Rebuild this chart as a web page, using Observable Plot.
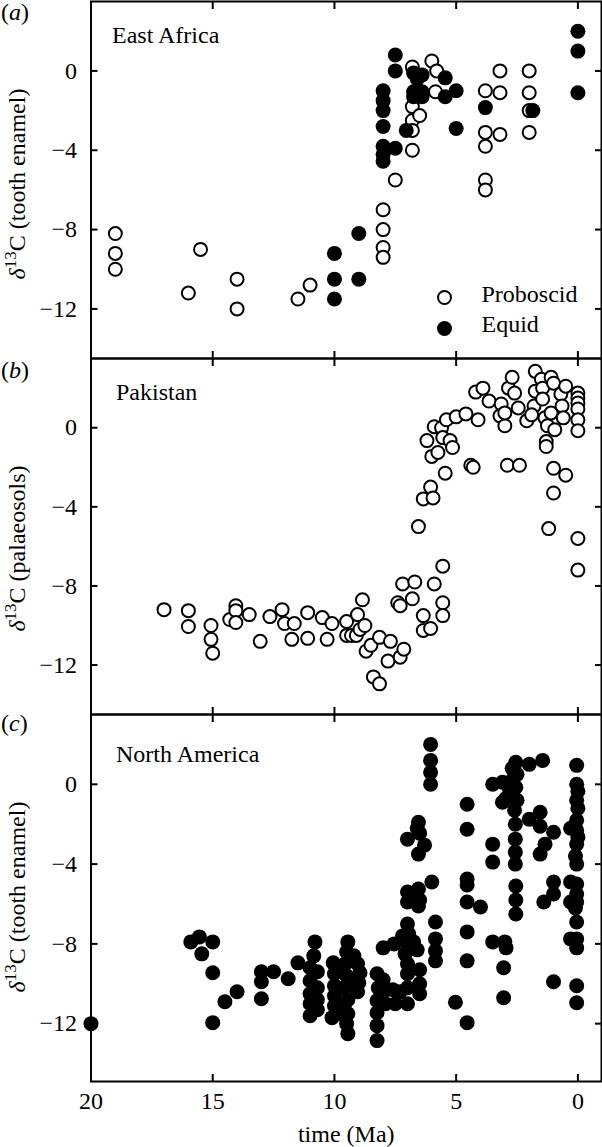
<!DOCTYPE html>
<html><head><meta charset="utf-8">
<script src="https://cdn.jsdelivr.net/npm/d3@7"></script>
<script src="https://cdn.jsdelivr.net/npm/@observablehq/plot@0.6"></script>
<style>body{margin:0;background:white;} #chart svg{display:block;}</style>
</head><body><div id="chart"></div>
<script>
const xTicks = [20, 15, 10, 5, 0];
const yTicks = [-12, -8, -4, 0];
const panelLetters = ["a", "b", "c"];
const panelTitles = ["East Africa", "Pakistan", "North America"];
const yLabels = ["tooth enamel", "palaeosols", "tooth enamel"];
const legendLabels = ["Proboscid", "Equid"];
const xLabel = "time (Ma)";

// [time (Ma), δ13C]
const eastAfricaProboscid = [
  [19.0,-8.2],[19.0,-9.2],[19.0,-10.0],[16.0,-11.2],[15.5,-9.0],[14.0,-10.5],[14.0,-12.0],[11.5,-11.5],[11.0,-10.8],
  [8.0,-7.0],[8.0,-8.0],[8.0,-8.9],[8.0,-9.4],[7.5,-5.5],
  [6.8,0.2],[6.8,-1.8],[6.8,-2.5],[6.8,-3.0],[6.8,-4.0],[6.5,-2.25],
  [6.0,0.5],[5.8,0.0],[5.85,-1.05],
  [3.8,-1.0],[3.8,-3.1],[3.8,-3.8],[3.8,-5.5],[3.8,-6.0],
  [3.2,0.0],[3.2,-1.1],[3.2,-3.2],
  [2.0,0.0],[2.0,-1.1],[2.0,-2.0],[2.0,-3.1]
];
const eastAfricaEquid = [
  [10.0,-9.2],[10.0,-10.5],[10.0,-11.5],[9.0,-8.2],[9.0,-10.5],
  [8.0,-1.0],[8.0,-1.5],[8.0,-2.0],[8.0,-2.8],[8.0,-3.8],[8.0,-4.2],[8.0,-4.55],
  [7.5,0.8],[7.5,0.0],[7.5,-3.9],[7.05,-3.0],
  [6.75,-0.1],[6.75,-1.05],[6.75,-1.3],[6.4,-0.2],[6.4,-1.05],[6.4,-1.3],[6.6,-0.4],
  [5.45,-0.35],[5.45,-1.3],[5.0,-1.0],[5.0,-2.9],
  [3.8,-1.85],[1.85,-2.0],[0,2.0],[0,1.0],[0,-1.1]
];
const pakistanPalaeosol = [
  [17.0,-9.2],[16.0,-9.25],[16.0,-10.05],[15.07,-10.0],[15.07,-10.7],[15.0,-11.4],[14.3,-9.7],[14.05,-9.0],[14.05,-9.25],[14.05,-9.85],
  [13.5,-9.45],[13.05,-10.8],[12.65,-9.55],[12.15,-9.2],[12.05,-9.9],[11.75,-10.7],[11.65,-9.9],[11.1,-9.35],[11.1,-10.65],[10.5,-9.6],
  [10.3,-10.7],[10.1,-9.9],[9.5,-9.8],[9.5,-10.5],[9.3,-10.5],[9.1,-10.5],[9.05,-9.45],[8.95,-10.2],[8.85,-8.7],[8.75,-10.0],
  [8.7,-11.3],[8.5,-11.0],[8.4,-12.6],[8.15,-12.95],[8.15,-10.6],[7.8,-11.8],[7.7,-10.8],[7.3,-11.6],[7.15,-11.2],[7.4,-8.85],
  [7.3,-9.0],[7.2,-7.9],[6.8,-8.65],[6.7,-7.8],[6.35,-9.5],[6.35,-10.25],[6.05,-10.15],[5.9,-7.9],[5.55,-7.0],[5.55,-8.85],[5.55,-9.5],
  [6.55,-5.0],[6.35,-3.6],[6.05,-3.0],[5.95,-3.55],[6.2,-0.65],[6.0,-1.45],[5.9,0.05],[5.75,-1.25],[5.6,0.0],[5.55,-0.5],
  [5.4,0.4],[5.45,-2.3],[5.25,-0.65],[5.15,-1.0],[5.0,0.55],[4.6,0.7],[4.4,-1.9],[4.3,-2.0],[4.2,1.8],[4.1,0.4],
  [3.9,2.0],[3.65,1.35],[3.15,1.2],[3.2,0.6],[3.0,0.1],[3.0,0.75],[2.85,2.0],[2.9,-1.9],[2.7,2.55],[2.6,1.75],
  [2.45,1.0],[2.4,-1.9],[2.1,0.35],[1.75,2.85],[1.75,1.85],[1.8,1.1],[1.9,0.65],[1.5,2.45],[1.45,2.0],[1.45,1.45],
  [1.35,0.5],[1.25,0.1],[1.3,-0.7],[1.3,-0.95],[1.2,-5.1],[1.1,2.55],[1.0,2.25],[1.1,0.75],[0.95,-0.1],[1.0,-2.05],
  [1.0,-3.3],[0.7,1.7],[0.65,1.1],[0.6,0.5],[0.5,2.1],[0.5,-2.4],[0,1.75],[0,1.5],[0,1.25],[0,0.95],[0,0.4],[0,-0.15],[0,-5.6],[0,-7.2]
];
const northAmericaEnamel = [
  [20,-12],
  [15.9,-7.9],[15.55,-7.65],[15.0,-7.9],[15.45,-8.5],[15.0,-9.45],[14.0,-10.4],[14.5,-10.9],[15.0,-11.95],
  [13.0,-9.4],[13.0,-9.9],[13.0,-10.75],[12.5,-9.4],[11.9,-9.75],[11.5,-8.95],
  [10.8,-7.9],[10.85,-8.6],[11.0,-9.2],[11.0,-9.85],[11.0,-10.5],[11.0,-11.0],[11.0,-11.6],[10.7,-9.4],[10.7,-10.2],[10.7,-10.8],[10.7,-11.3],
  [10.05,-8.95],[10.0,-9.5],[10.0,-10.1],[10.0,-10.6],[10.0,-11.1],[9.9,-11.5],[10.1,-11.7],[9.8,-9.2],
  [9.45,-7.9],[9.5,-8.4],[9.55,-9.0],[9.5,-9.6],[9.6,-10.2],[9.45,-10.8],[9.6,-11.1],[9.45,-11.5],[9.5,-12.0],[9.45,-12.5],[9.3,-10.0],
  [9.2,-8.6],[9.05,-9.0],[8.95,-9.45],[9.0,-9.95],[9.05,-10.4],
  [8.25,-9.5],[8.2,-10.2],[8.25,-10.85],[8.25,-11.45],[8.25,-12.1],[8.25,-12.85],[8.0,-9.8],[8.1,-10.6],
  [8.0,-8.2],[7.55,-8.0],[7.95,-10.35],[7.6,-10.3],[7.5,-11.0],[7.0,-11.0],[7.9,-11.0],[7.3,-10.4],[6.5,-10.5],
  [7.0,-7.0],[6.95,-7.5],[7.0,-8.0],[7.1,-8.5],[7.0,-9.0],[7.0,-9.5],[7.0,-10.2],[7.2,-7.6],[6.75,-7.9],[6.6,-8.3],
  [6.5,-9.3],[6.5,-10.0],
  [5.85,-6.9],[5.85,-7.75],[5.85,-8.35],[5.85,-8.85],
  [6.0,-4.9],[6.55,-5.25],[7.0,-5.4],[7.0,-5.9],[6.55,-6.1],[6.7,-5.6],[6.5,-5.8],
  [6.55,-1.9],[6.5,-2.45],[7.0,-2.75],[6.3,-3.05],[6.55,-3.5],[6.6,-2.2],
  [6.05,2.0],[6.05,1.2],[6.05,0.6],[6.05,0.0],
  [5.03,-10.93],
  [4.55,-1.0],[4.55,-2.25],[4.55,-4.75],[4.55,-5.05],[4.55,-5.9],[4.55,-7.4],[4.55,-8.85],[4.55,-11.95],
  [4.0,-6.15],
  [3.5,-3.0],[3.5,-3.9],[3.5,-7.9],[3.0,-7.9],[2.95,-8.2],[3.05,-9.2],[3.05,-10.7],
  [3.5,0.0],[3.1,0.1],[3.1,-0.9],[2.95,-0.7],
  [2.55,1.1],[2.5,0.5],[2.55,-0.15],[2.5,-0.8],[2.6,-1.3],[2.57,-2.0],[2.57,-2.75],[2.57,-3.4],[2.57,-4.0],[2.55,-5.1],[2.55,-5.8],[2.55,-6.5],[2.7,0.8],[2.7,0.2],[2.8,-0.3],
  [2.0,1.0],[1.45,1.2],[2.0,-1.75],[1.55,-1.4],[1.55,-2.1],[1.0,-2.4],[1.35,-3.0],[1.55,-3.5],[1.0,-4.9],[1.0,-5.5],[1.4,-5.9],[1.0,-9.9],
  [0.05,0.95],[0.05,0.0],[0.05,-0.8],[0.05,-1.8],[0.05,-2.3],[0.05,-3.0],[0.05,-4.0],[0.05,-5.0],[0.05,-5.5],[0.05,-5.9],[0.05,-6.9],[0.05,-7.75],[0.05,-8.2],[0.05,-10.1],[0.05,-10.95],
  [0.0,-0.35],[0.0,-1.2],[0.0,-2.65],[0.3,-2.2],[0.3,-4.9],[0.3,-5.9],[0.3,-7.75],[0.1,-6.2],[0.1,-3.6]
];

const FONT = "'Liberation Serif', 'Times New Roman', serif";

function panel(o) {
  const marks = [
    Plot.frame({strokeWidth: 2}),
    Plot.axisY(yTicks, {anchor: "left", tickSize: 0, tickPadding: 14, label: null}),
    Plot.axisY(yTicks, {anchor: "left", tickSize: -7, fill: "none", label: null, strokeWidth: 2}),
    Plot.axisY(yTicks, {anchor: "right", tickSize: -7, fill: "none", label: null, strokeWidth: 2}),
    Plot.axisX(xTicks, {anchor: "top", tickSize: -7, fill: "none", label: null, strokeWidth: 2}),
    Plot.axisX(xTicks, {anchor: "bottom", tickSize: -7, fill: "none", label: null, strokeWidth: 2})
  ];
  if (o.xText) {
    marks.push(Plot.axisX(xTicks, {anchor: "bottom", tickSize: 0, tickPadding: 10, label: null}));
    marks.push(Plot.text([xLabel], {frameAnchor: "bottom", dy: 60, lineAnchor: "bottom", fontSize: 24}));
  }
  if (o.open) marks.push(Plot.dot(o.open, {x: d => d[0], y: d => d[1], r: 6.5, stroke: "black", strokeWidth: 2, fill: "white"}));
  if (o.filled) marks.push(Plot.dot(o.filled, {x: d => d[0], y: d => d[1], r: 7.5, fill: "black"}));
  if (o.legend) {
    marks.push(Plot.dot([legendLabels[0]], {frameAnchor: "bottom-right", dx: -157, dy: -61, r: 6.5, stroke: "black", strokeWidth: 2, fill: "white"}));
    marks.push(Plot.dot([legendLabels[1]], {frameAnchor: "bottom-right", dx: -157, dy: -30, r: 7.5, fill: "black"}));
    marks.push(Plot.text([legendLabels[0]], {frameAnchor: "bottom-right", dx: -120, dy: -57, textAnchor: "start", fontSize: 24}));
    marks.push(Plot.text([legendLabels[1]], {frameAnchor: "bottom-right", dx: -120, dy: -27, textAnchor: "start", fontSize: 24}));
  }
  marks.push(Plot.text([o.title], {frameAnchor: "top-left", dx: o.titleDx, dy: o.titleDy, textAnchor: "start", lineAnchor: "bottom", fontSize: 24}));
  marks.push(Plot.text([o.letter], {frameAnchor: "top-left", dx: -90, dy: o.letterDy, textAnchor: "start", lineAnchor: "bottom", fontSize: 24}));
  marks.push(Plot.text([o.ylabel], {frameAnchor: "left", dx: -66.5, dy: o.ylabelDy, rotate: -90, textAnchor: "middle", lineAnchor: "bottom", fontSize: 24}));

  const svg = Plot.plot({
    width: 602,
    height: o.height,
    marginLeft: 90.5,
    marginRight: 1,
    marginTop: o.marginTop,
    marginBottom: o.marginBottom,
    x: {domain: [20, -0.97]},
    y: {domain: o.yDomain},
    style: {fontFamily: FONT, fontSize: "24px", color: "black", background: "white", overflow: "visible"},
    marks
  });
  const s = d3.select(svg);
  s.selectAll("text").each(function() {
    const t = d3.select(this);
    const v = this.textContent;
    if (v === o.letter) {
      t.text("");
      t.append("tspan").text("(");
      t.append("tspan").attr("font-style", "italic").text(v);
      t.append("tspan").text(")");
    } else if (v === o.ylabel) {
      t.text("");
      t.append("tspan").attr("font-style", "italic").text("δ");
      t.append("tspan").attr("font-size", "17px").attr("dy", -9).text("13");
      t.append("tspan").attr("dy", 9).text("C (" + v + ")");
    }
  });
  return svg;
}

const chart = document.getElementById("chart");
chart.append(panel({
  height: 358, marginTop: 1, marginBottom: 0, yDomain: [-14.5, 3.5],
  open: eastAfricaProboscid, filled: eastAfricaEquid, legend: true,
  title: panelTitles[0], titleDx: 21, titleDy: 41, letter: panelLetters[0], letterDy: 18,
  ylabel: yLabels[0], ylabelDy: 4
}));
chart.append(panel({
  height: 356, marginTop: 0, marginBottom: 0, yDomain: [-14.5, 3.5],
  open: pakistanPalaeosol,
  title: panelTitles[1], titleDx: 25, titleDy: 41, letter: panelLetters[1], letterDy: 19,
  ylabel: yLabels[1], ylabelDy: 12
}));
chart.append(panel({
  height: 433, marginTop: 0, marginBottom: 66, yDomain: [-14.9, 3.5],
  filled: northAmericaEnamel, xText: true,
  title: panelTitles[2], titleDx: 25, titleDy: 47, letter: panelLetters[2], letterDy: 16,
  ylabel: yLabels[2], ylabelDy: -1
}));
</script>
</body></html>
